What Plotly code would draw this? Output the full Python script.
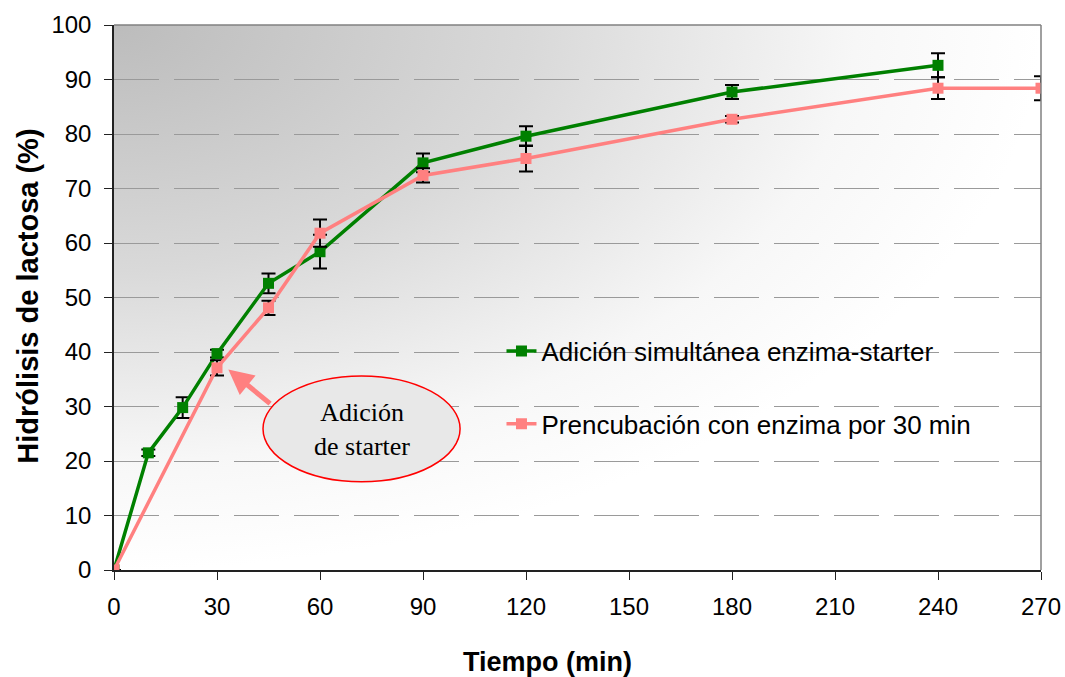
import base64
import plotly.graph_objects as go

# ---- data ----
tiempo_simultanea = [0, 10, 20, 30, 45, 60, 90, 120, 180, 240]
hidrolisis_simultanea = [0, 21.5, 29.8, 39.7, 52.6, 58.4, 74.7, 79.6, 87.7, 92.6]
error_simultanea = [0, 0.6, 1.9, 0.7, 1.8, 3.1, 1.7, 1.8, 1.3, 2.2]

tiempo_preincub = [0, 30, 45, 60, 90, 120, 180, 240, 270]
hidrolisis_preincub = [0, 37.1, 48.1, 61.8, 72.4, 75.5, 82.7, 88.4, 88.4]
error_preincub = [0, 1.4, 1.3, 2.5, 1.3, 2.4, 0.6, 2.0, 2.2]

x_ticks = [0, 30, 60, 90, 120, 150, 180, 210, 240, 270]
y_ticks = [0, 10, 20, 30, 40, 50, 60, 70, 80, 90, 100]

nombre_1 = "Adición simultánea enzima-starter"
nombre_2 = "Prencubación con enzima por 30 min"
titulo_x = "Tiempo (min)"
titulo_y = "Hidrólisis de lactosa (%)"
texto_callout = "Adición<br>de starter"

GREEN = "#008000"
PINK = "#FF8080"
FONT = "Liberation Sans, Arial, sans-serif"

# background gradient (plot area)
svg = (
    '<svg xmlns="http://www.w3.org/2000/svg" width="927" height="545" '
    'viewBox="0 0 927 545" preserveAspectRatio="none">'
    '<defs><radialGradient id="g" cx="0" cy="0" r="1" gradientUnits="objectBoundingBox">'
    '<stop offset="0" stop-color="#bcbcbc"/>'
    '<stop offset="0.45" stop-color="#d9d9d9"/>'
    '<stop offset="0.8" stop-color="#f7f7f7"/>'
    '<stop offset="1" stop-color="#ffffff"/>'
    '</radialGradient></defs>'
    '<rect x="0" y="0" width="927" height="545" fill="url(#g)"/></svg>'
)
bg_src = "data:image/svg+xml;base64," + base64.b64encode(svg.encode()).decode()

fig = go.Figure()

fig.add_trace(go.Scatter(
    x=tiempo_simultanea, y=hidrolisis_simultanea, name=nombre_1,
    mode="lines+markers", legendgroup="a",
    line=dict(color=GREEN, width=3.5),
    marker=dict(symbol="square", size=11, color=GREEN),
    error_y=dict(type="data", array=error_simultanea, visible=True,
                 color="black", thickness=2, width=7),
))
fig.add_trace(go.Scatter(
    x=tiempo_preincub, y=hidrolisis_preincub, name=nombre_2,
    mode="lines+markers", legendgroup="b",
    line=dict(color=PINK, width=3.5),
    marker=dict(symbol="square", size=11, color=PINK),
    error_y=dict(type="data", array=error_preincub, visible=True,
                 color="black", thickness=2, width=7),
))

fig.update_layout(
    width=1065, height=677,
    margin=dict(l=114, r=24, t=25, b=107),
    paper_bgcolor="white",
    plot_bgcolor="rgba(0,0,0,0)",
    font=dict(family=FONT, color="black"),
    images=[dict(source=bg_src, xref="paper", yref="paper", x=0, y=1,
                 sizex=1, sizey=1, sizing="stretch", layer="below",
                 xanchor="left", yanchor="top")],
    legend=dict(x=0.418, y=0.445, xanchor="left", yanchor="top",
                bgcolor="rgba(0,0,0,0)", font=dict(size=26, family=FONT),
                tracegroupgap=36, traceorder="grouped"),
    showlegend=True,
)

fig.update_xaxes(
    range=[0, 270], tickvals=x_ticks, ticktext=[str(v) for v in x_ticks],
    showgrid=False, zeroline=False, automargin=False,
    showline=True, linecolor="#222222", linewidth=2,
    ticks="outside", ticklen=8, tickwidth=1, tickcolor="#222222",
    ticklabelstandoff=6,
    tickfont=dict(size=24, family=FONT),
)
fig.update_yaxes(
    range=[0, 100], tickvals=y_ticks, automargin=False,
    showgrid=True, gridcolor="#9a9a9a", gridwidth=1, griddash="45px,15px",
    zeroline=False,
    showline=True, linecolor="#222222", linewidth=1.5,
    ticks="outside", ticklen=8, tickwidth=1, tickcolor="#222222",
    ticklabelstandoff=8,
    tickfont=dict(size=24, family=FONT),
)

# axis titles
fig.add_annotation(x=0.468, y=-0.168, xref="paper", yref="paper", showarrow=False,
                   text="<b>" + titulo_x + "</b>", xanchor="center", yanchor="middle",
                   font=dict(size=27, family=FONT, color="black"))
fig.add_annotation(x=-0.093, y=0.503, xref="paper", yref="paper", showarrow=False,
                   text="<b>" + titulo_y + "</b>", textangle=-90,
                   xanchor="center", yanchor="middle",
                   font=dict(size=29, family=FONT, color="black"))

# top / right frame
fig.add_shape(type="line", xref="paper", yref="paper", x0=0, x1=1, y0=1, y1=1,
              line=dict(color="#808080", width=1.5))
fig.add_shape(type="line", xref="paper", yref="paper", x0=1, x1=1, y0=0, y1=1,
              line=dict(color="#808080", width=1.5))

# callout ellipse
fig.add_shape(type="circle", xref="x", yref="y", x0=43.4, x1=100.8, y0=16.2, y1=35.6,
              line=dict(color="#ff0000", width=1.5), fillcolor="#e8e8e8", layer="above")
fig.add_annotation(x=72.2, y=25.8, xref="x", yref="y", showarrow=False,
                   text=texto_callout,
                   font=dict(family="Liberation Serif, Times New Roman, serif", size=26, color="black"))
fig.add_annotation(x=33.3, y=36.8, ax=45.9, ay=30.3, xref="x", yref="y",
                   axref="x", ayref="y", text="", showarrow=True,
                   arrowhead=2, arrowsize=1, arrowwidth=5, arrowcolor=PINK)

fig.write_html("out.html")
